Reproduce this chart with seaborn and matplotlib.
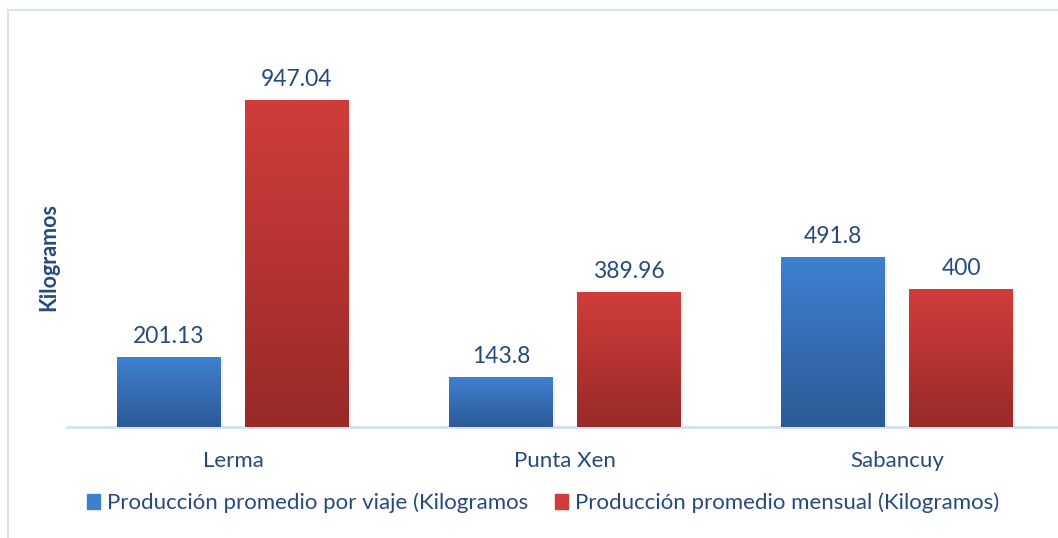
import matplotlib.pyplot as plt
import matplotlib.patches as mpatches
import numpy as np
import pandas as pd
import seaborn as sns
from matplotlib.colors import LinearSegmentedColormap

# Data
localidades = ['Lerma', 'Punta Xen', 'Sabancuy']
por_viaje = [201.13, 143.8, 491.8]
mensual = [947.04, 389.96, 400]
series = ['Producción promedio por viaje (Kilogramos', 'Producción promedio mensual (Kilogramos)']

df = pd.DataFrame({
    'localidad': localidades * 2,
    'serie': [series[0]] * 3 + [series[1]] * 3,
    'kg': por_viaje + mensual,
})

text_color = '#264a7e'
blue_top, blue_bot = '#3e80d0', '#2c5a96'
red_top, red_bot = '#d03d39', '#982a28'

sns.set_theme(style='white')
plt.rcParams['font.family'] = ['Lato', 'DejaVu Sans']

fig = plt.figure(figsize=(10.58, 5.38), dpi=100)
ax = fig.add_axes([67 / 1058, (538 - 427) / 538, (1058 - 67) / 1058, (427 - 48) / 538])

sns.barplot(data=df, x='localidad', y='kg', hue='serie', palette=[blue_top, red_top],
            width=0.771, gap=0.188, ax=ax, legend=False, zorder=2)

# gradient fill for each bar
for bar in ax.patches:
    x0, y0 = bar.get_x(), bar.get_y()
    w, h = bar.get_width(), bar.get_height()
    col = bar.get_facecolor()
    if col[0] > col[2]:
        cmap = LinearSegmentedColormap.from_list('r', [red_bot, red_top])
    else:
        cmap = LinearSegmentedColormap.from_list('b', [blue_bot, blue_top])
    grad = np.linspace(0, 1, 256).reshape(-1, 1)
    # soft shadow
    ax.add_patch(mpatches.Rectangle((x0 + 0.003, y0), w + 0.004, h - 3, color='#000000',
                                    alpha=0.06, lw=0, zorder=1))
    ax.imshow(grad, extent=[x0, x0 + w, y0, y0 + h], origin='lower', aspect='auto',
              cmap=cmap, zorder=3)
    bar.set_visible(False)
    ax.text(x0 + w / 2, y0 + h + 30, f'{h:g}', ha='center', va='bottom',
            fontsize=16.5, color=text_color)

ax.set_xlim(-0.5, -0.5 + 991 / 332)
ax.set_ylim(0, 1100)

for s in ['top', 'right', 'left']:
    ax.spines[s].set_visible(False)
ax.spines['bottom'].set_color('#d3e1f2')
ax.spines['bottom'].set_linewidth(2)
ax.set_yticks([])
ax.tick_params(axis='x', length=0, pad=17, labelsize=16, labelcolor=text_color)
ax.set_xlabel('')
ax.set_ylabel('')

fig.text(49 / 1058, 1 - 257 / 538, 'Kilogramos', rotation=90, ha='center', va='center',
         fontsize=15.5, fontweight='bold', color=text_color)

handles = [mpatches.Patch(color=blue_top), mpatches.Patch(color=red_top)]
fig.legend(handles, series, loc='center', bbox_to_anchor=(543 / 1058, 1 - 503 / 538),
           ncol=2, frameon=False, fontsize=16, labelcolor=text_color,
           handlelength=0.6, handleheight=0.6, handletextpad=0.3, columnspacing=1.2)

# outer chart border
fig.patches.append(mpatches.Rectangle((8 / 1058, -0.1), 1.2, 1 - 10 / 538 + 0.1,
                                      transform=fig.transFigure, fill=False,
                                      edgecolor='#d6e4f5', lw=1.5))

fig.savefig('out.png', dpi=100)
